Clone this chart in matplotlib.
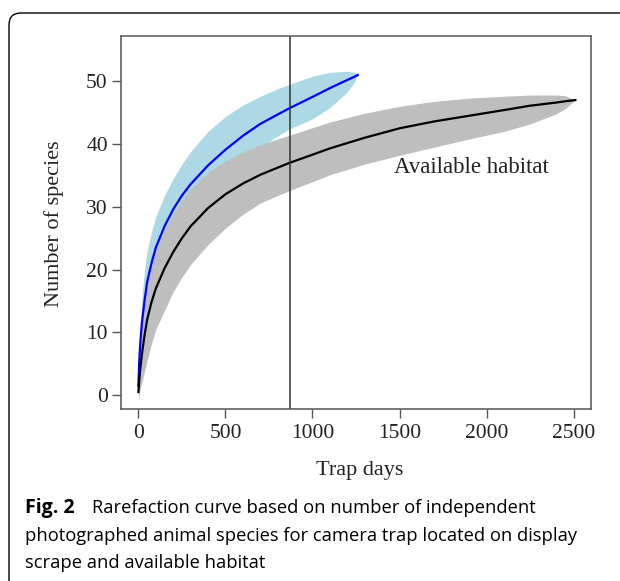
"""Rarefaction curves: display scrape vs available habitat, with caption box."""

import matplotlib

matplotlib.use("Agg")
import matplotlib.pyplot as plt  # noqa: E402
from matplotlib.patches import FancyBboxPatch  # noqa: E402

# display scrape (blue)
scrape_days = [0, 5, 10, 20, 35, 50, 75, 100, 150, 200, 250, 300, 400, 500, 600,
               700, 800, 868, 1000, 1100, 1200, 1240, 1260]
scrape_mean = [1.5, 5.5, 8, 11.5, 15, 18, 21, 23.5, 26.9, 29.6, 31.8, 33.6, 36.6,
               39.1, 41.3, 43.2, 44.7, 45.7, 47.5, 48.9, 50.2, 50.7, 51.0]
scrape_upper = [2, 8, 11, 15.5, 20, 23, 26, 28.5, 31.8, 34.5, 36.8, 38.8, 42.0,
                44.4, 46.2, 47.6, 48.8, 49.5, 50.8, 51.4, 51.6, 51.4, 51.0]
scrape_lower = [1, 4, 6, 9, 12, 14.5, 17.5, 20, 23.5, 26, 28.2, 30, 33, 35.5,
                37.5, 39.5, 41.3, 42.4, 44, 45.8, 48.3, 49.8, 51.0]

# available habitat (black / grey)
habitat_days = [0, 5, 10, 20, 35, 50, 75, 100, 150, 200, 250, 300, 400, 500, 600,
                700, 868, 1000, 1100, 1300, 1500, 1700, 1900, 2100, 2250, 2400,
                2450, 2510]
habitat_mean = [0.5, 2.5, 4, 6.5, 9.5, 12, 14.8, 17, 20.2, 22.8, 25.0, 26.9, 29.8,
                32.0, 33.7, 35.1, 37.0, 38.3, 39.3, 41.0, 42.5, 43.6, 44.5, 45.4,
                46.1, 46.6, 46.8, 47.0]
habitat_upper = [0.5, 4.5, 7, 10.5, 14.5, 17.5, 20.5, 23.0, 26.3, 28.9, 31.0, 32.8,
                 35.5, 37.3, 38.7, 39.9, 41.4, 42.6, 43.5, 44.9, 46.0, 46.8, 47.3,
                 47.6, 47.8, 47.8, 47.7, 47.0]
habitat_lower = [-1, 0, 1, 2, 3.8, 5.5, 8.2, 10.5, 13.5, 16.5, 18.8, 20.8, 24, 26.6,
                 28.8, 30.6, 32.6, 34, 35.1, 36.8, 38.2, 39.5, 40.8, 42, 43.2, 44.8,
                 45.6, 47.0]

cutoff_days = 870
x_ticks = [0, 500, 1000, 1500, 2000, 2500]
y_ticks = [0, 10, 20, 30, 40, 50]

caption_lines = [
    "Rarefaction curve based on number of independent",
    "photographed animal species for camera trap located on display",
    "scrape and available habitat",
]

W, H = 620, 581
fig = plt.figure(figsize=(W / 100, H / 100), dpi=100)

# rounded outer frame (runs off the right and bottom edges)
frame = FancyBboxPatch((0.09, -0.3), 7.0, (H - 13) / 100 + 0.3,
                       boxstyle="round,pad=0,rounding_size=0.12",
                       transform=fig.dpi_scale_trans, fc="none", ec="black",
                       lw=1.0, clip_on=False)
fig.patches.append(frame)

ax = fig.add_axes([121 / W, 1 - 409 / H, (591 - 121) / W, (409 - 36) / H])
serif = "Liberation Serif"

ax.fill_between(scrape_days, scrape_lower, scrape_upper, color="#add8e6", lw=0)
ax.fill_between(habitat_days, habitat_lower, habitat_upper, color="#bebebe", lw=0)
ax.plot(scrape_days, scrape_mean, color="#0000ff", lw=1.6)
ax.plot(habitat_days, habitat_mean, color="black", lw=1.6)
ax.axvline(cutoff_days, color="#333333", lw=1.1)

ax.text(1914, 36.2, "Available habitat", family=serif, fontsize=16.5,
        ha="center", va="center", color="#222222")

ax.set_xlim(-100, 2600)
ax.set_ylim(-2.2, 57.2)
ax.set_xticks(x_ticks)
ax.set_yticks(y_ticks)
for s in ax.spines.values():
    s.set_color("#555555")
    s.set_linewidth(1.1)
ax.tick_params(direction="out", length=6.5, width=1.0, color="#555555",
               labelsize=15.5, labelcolor="#222222")
ax.tick_params(axis="x", pad=4)
ax.tick_params(axis="y", pad=3)
for lab in ax.get_xticklabels() + ax.get_yticklabels():
    lab.set_family(serif)

fig.text(360 / W, 1 - 471 / H, "Trap days", family=serif, fontsize=16,
         ha="center", va="center", color="#222222")
fig.text(54 / W, 1 - 224 / H, "Number of species", family=serif, fontsize=16,
         rotation=90, ha="center", va="center", color="#222222")

# caption
cap_x = 25 / W
cap_y = [508, 536, 563]
fig.text(cap_x, 1 - cap_y[0] / H, "Fig. 2", family="Open Sans", weight="bold",
         fontsize=14, ha="left", va="center")
fig.text(92 / W, 1 - cap_y[0] / H, caption_lines[0], family="Open Sans",
         fontsize=13.2, ha="left", va="center")
for line, yy in zip(caption_lines[1:], cap_y[1:]):
    fig.text(cap_x, 1 - yy / H, line, family="Open Sans", fontsize=13.2,
             ha="left", va="center")

fig.savefig("out.png", dpi=100)
